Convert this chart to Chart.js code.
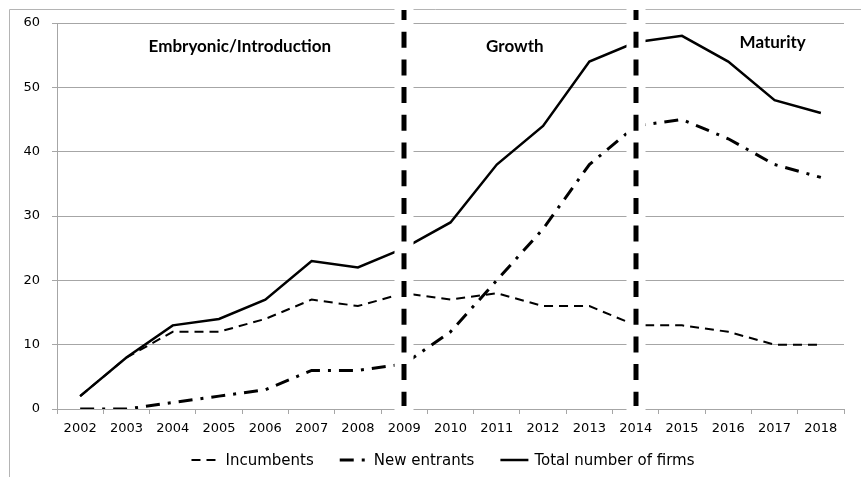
<!DOCTYPE html>
<html lang="en">
<head>
  <meta charset="UTF-8" />
  <title>Number of firms by life-cycle phase</title>
  <script src="https://cdn.jsdelivr.net/npm/chart.js"></script>
  <style>
    body { margin: 0; background: #fff; }
    canvas { display: block; }
  </style>
</head>
<body>
  <canvas id="firmsChart" width="861" height="477"></canvas>

  <script>
    const years = ['2002', '2003', '2004', '2005', '2006', '2007', '2008', '2009', '2010',
                   '2011', '2012', '2013', '2014', '2015', '2016', '2017', '2018'];
    const incumbents  = [2, 8, 12, 12, 14, 17, 16, 18, 17, 18, 16, 16, 13, 13, 12, 10, 10];
    const newEntrants = [0, 0, 1, 2, 3, 6, 6, 7, 12, 20, 28, 38, 44, 45, 42, 38, 36];
    const totalFirms  = [2, 8, 13, 14, 17, 23, 22, 25, 29, 38, 44, 54, 57, 58, 54, 48, 46];
    const phaseBreaks = ['2009', '2014'];
    const phaseNames  = ['Embryonic/Introduction', 'Growth', 'Maturity'];

    const axisGrey = '#a6a6a6';
    const tickFont = { family: '"DejaVu Sans", sans-serif', size: 13 };

    // thin grey frame along the left and top edge
    const framePlugin = {
      id: 'frame',
      beforeDraw(chart) {
        const ctx = chart.ctx;
        ctx.save();
        ctx.strokeStyle = '#b4b4b4';
        ctx.lineWidth = 1;
        ctx.beginPath();
        ctx.moveTo(9.5, chart.height);
        ctx.lineTo(9.5, 9.5);
        ctx.lineTo(chart.width, 9.5);
        ctx.stroke();
        ctx.restore();
      }
    };

    // heavy dashed separators between phases + phase titles
    const phasePlugin = {
      id: 'phases',
      afterDatasetsDraw(chart) {
        const { ctx, chartArea, scales: { x, y } } = chart;
        ctx.save();
        phaseBreaks.forEach(year => {
          const px = Math.round(x.getPixelForValue(years.indexOf(year)));
          ctx.fillStyle = '#fff';
          ctx.fillRect(px - 9.5, 8, 19, chartArea.bottom - 6);
          ctx.strokeStyle = '#000';
          ctx.lineWidth = 5;
          ctx.setLineDash([16, 11.7]);
          ctx.lineDashOffset = 6;
          ctx.beginPath();
          ctx.moveTo(px, 10);
          ctx.lineTo(px, chartArea.bottom - 3);
          ctx.stroke();
        });
        ctx.setLineDash([]);

        // titles anchored in data units (category index, value)
        const anchors = [[3.45, 56.4], [9.39, 56.3], [14.96, 57.0]];
        ctx.fillStyle = '#000';
        ctx.font = 'bold 17px Lato, sans-serif';
        ctx.textAlign = 'center';
        ctx.textBaseline = 'middle';
        phaseNames.forEach((name, i) => {
          ctx.fillText(name, x.getPixelForValue(anchors[i][0]), y.getPixelForValue(anchors[i][1]));
        });
        ctx.restore();
      }
    };

    // legend row under the axis, samples use each dataset's own dash
    const legendPlugin = {
      id: 'lineLegend',
      afterDraw(chart) {
        const ctx = chart.ctx;
        const sample = 28, gap = 6, spacing = 26, cy = 460, cx = 443;
        ctx.save();
        ctx.font = '15px "DejaVu Sans", sans-serif';
        ctx.textBaseline = 'middle';
        ctx.fillStyle = '#000';
        const sets = chart.data.datasets;
        const widths = sets.map(ds => sample + gap + ctx.measureText(ds.label).width);
        let left = cx - (widths.reduce((a, b) => a + b, 0) + spacing * (sets.length - 1)) / 2;
        sets.forEach((ds, i) => {
          ctx.strokeStyle = ds.borderColor;
          ctx.lineWidth = ds.borderWidth;
          ctx.setLineDash(ds.borderDash || []);
          ctx.beginPath();
          ctx.moveTo(left, cy);
          ctx.lineTo(left + sample, cy);
          ctx.stroke();
          ctx.fillText(ds.label, left + sample + gap, cy + 1);
          left += widths[i] + spacing;
        });
        ctx.restore();
      }
    };

    new Chart(document.getElementById('firmsChart'), {
      type: 'line',
      data: {
        labels: years,
        datasets: [
          {
            label: 'Incumbents',
            data: incumbents,
            borderColor: '#000',
            borderWidth: 2,
            borderDash: [9, 6]
          },
          {
            label: 'New entrants',
            data: newEntrants,
            borderColor: '#000',
            borderWidth: 3,
            borderDash: [14, 8, 3, 8]
          },
          {
            label: 'Total number of firms',
            data: totalFirms,
            borderColor: '#000',
            borderWidth: 2.5
          }
        ]
      },
      options: {
        responsive: false,
        animation: false,
        layout: { padding: { left: 0, right: 17, top: 23, bottom: 38 } },
        elements: {
          point: { radius: 0 },
          line: { tension: 0, fill: false }
        },
        scales: {
          x: {
            offset: true,
            afterFit: s => { s.height = 30; },
            grid: { drawOnChartArea: false, drawTicks: true, tickLength: 5, color: axisGrey, offset: true },
            border: { color: axisGrey },
            ticks: { color: '#000', font: tickFont, padding: 7, maxRotation: 0, autoSkip: false }
          },
          y: {
            min: 0,
            max: 60,
            afterFit: s => { s.width = 57; },
            grid: { color: axisGrey, tickLength: 5 },
            border: { color: axisGrey },
            ticks: { stepSize: 10, color: '#000', font: tickFont, padding: 12 }
          }
        },
        plugins: {
          legend: { display: false },
          tooltip: { enabled: false }
        }
      },
      plugins: [framePlugin, phasePlugin, legendPlugin]
    });
  </script>
</body>
</html>
